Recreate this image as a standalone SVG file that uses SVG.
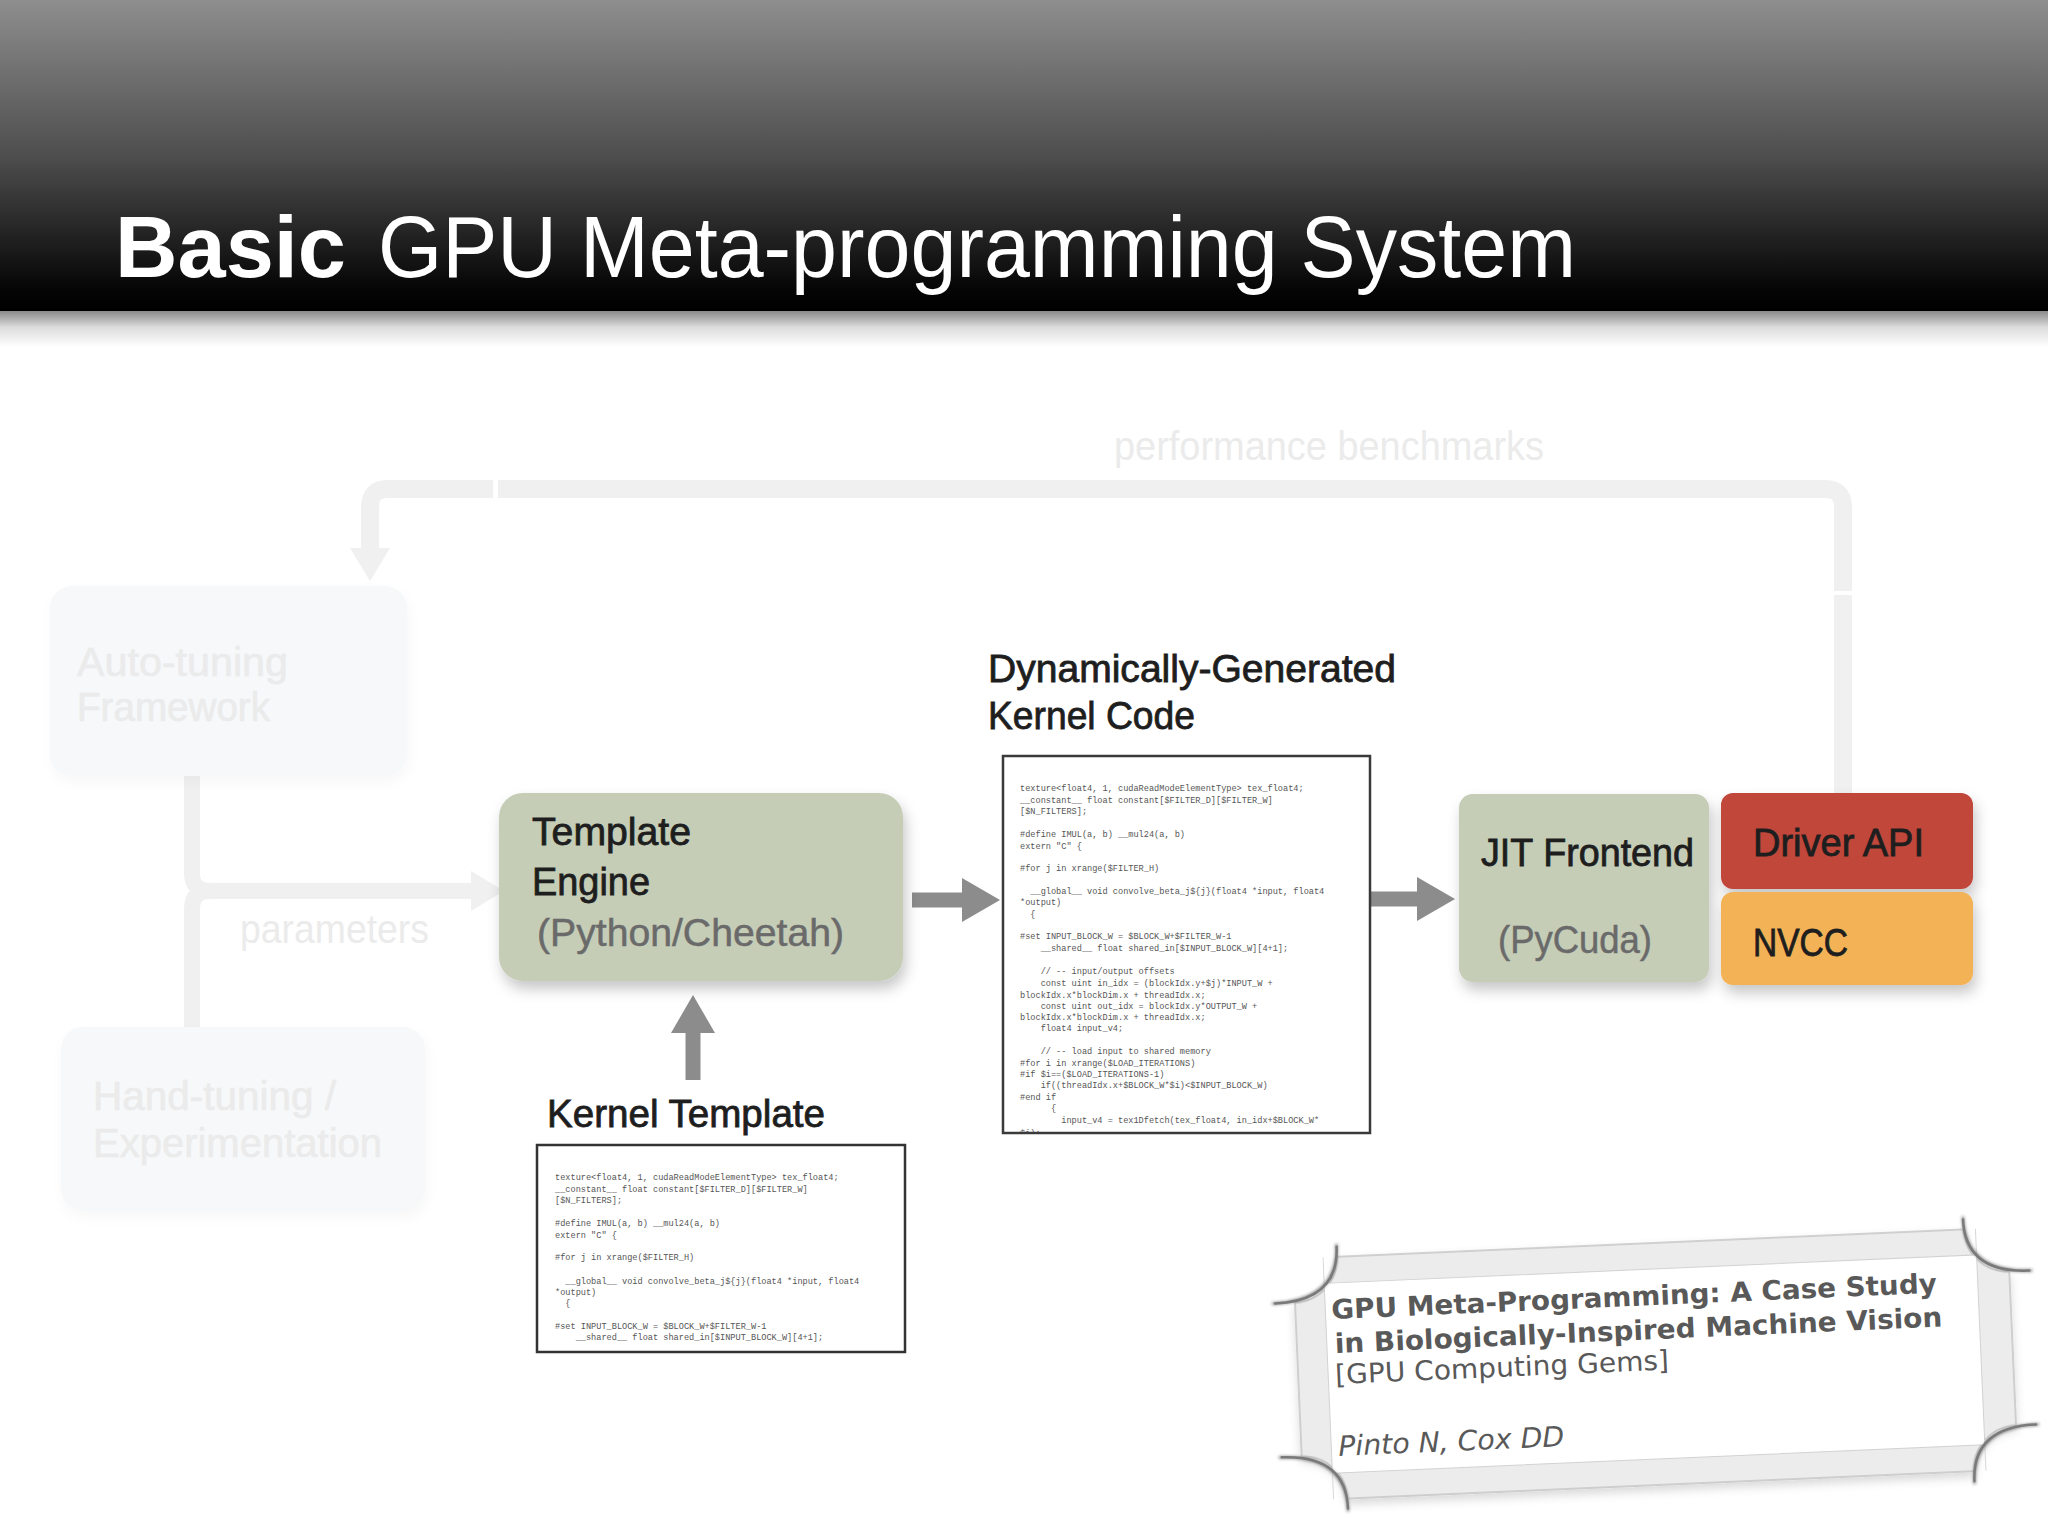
<svg xmlns="http://www.w3.org/2000/svg" width="2048" height="1536" viewBox="0 0 2048 1536">
<defs>
<style>
.title{font-family:"Liberation Sans",Arial,sans-serif;fill:#fff;font-size:88px}
.lbl{font-family:"Liberation Sans",Arial,sans-serif;font-size:38px;fill:#1e1e1e;stroke:#1e1e1e;stroke-width:0.8}
.sub{font-family:"Liberation Sans",Arial,sans-serif;font-size:38px;fill:#6a6a6a;stroke:#6a6a6a;stroke-width:0.5}
.faint{font-family:"Liberation Sans",Arial,sans-serif;font-size:40px;fill:#ebebeb}
.code{font-family:"Liberation Mono","DejaVu Sans Mono",monospace;font-size:8.6px;fill:#555;white-space:pre}
.cite{font-family:"DejaVu Sans","Liberation Sans",sans-serif;fill:#595959}
.arrow{fill:none;stroke:#8c8c8c;stroke-width:15}
.light{fill:none;stroke:#f0f0f0}
.curl{fill:none;stroke:#7a7a7a;stroke-width:2.5;stroke-linecap:round}
</style>
<linearGradient id="hdr" x1="0" y1="0" x2="0" y2="1">
<stop offset="0" stop-color="#8e8e8e"/>
<stop offset="0.5" stop-color="#4e4e4e"/>
<stop offset="0.93" stop-color="#050505"/>
<stop offset="1" stop-color="#000"/>
</linearGradient>
<linearGradient id="hdrsh" x1="0" y1="0" x2="0" y2="1">
<stop offset="0" stop-color="#8a8a8a"/>
<stop offset="0.45" stop-color="#dcdcdc"/>
<stop offset="1" stop-color="#fff"/>
</linearGradient>
<filter id="sh" x="-10%" y="-10%" width="130%" height="140%">
<feDropShadow dx="3" dy="8" stdDeviation="7" flood-color="#000" flood-opacity="0.22"/>
</filter>
<filter id="shf" x="-10%" y="-10%" width="130%" height="140%">
<feDropShadow dx="2" dy="6" stdDeviation="6" flood-color="#000" flood-opacity="0.03"/>
</filter>
<filter id="shc" x="-10%" y="-20%" width="120%" height="150%">
<feDropShadow dx="0" dy="5" stdDeviation="5" flood-color="#000" flood-opacity="0.15"/>
</filter>
<filter id="blur"><feGaussianBlur stdDeviation="1.6"/></filter>
<marker id="ah" markerUnits="userSpaceOnUse" markerWidth="60" markerHeight="60" refX="0" refY="0" viewBox="0 -30 60 60" orient="auto" overflow="visible">
<path d="M0,-22 L38,0 L0,22 z" fill="#8c8c8c"/>
</marker>
<marker id="ahl" markerUnits="userSpaceOnUse" markerWidth="60" markerHeight="60" refX="0" refY="0" viewBox="0 -30 60 60" orient="auto" overflow="visible">
<path d="M0,-20 L33,0 L0,20 z" fill="#f0f0f0"/>
</marker>
<clipPath id="clipcode"><rect x="1004" y="757" width="365" height="375"/></clipPath>
</defs>

<rect width="2048" height="1536" fill="#fff"/>

<g id="header">
<rect x="0" y="0" width="2048" height="311" fill="url(#hdr)"/>
<rect x="0" y="311" width="2048" height="36" fill="url(#hdrsh)"/>
<text class="title" x="115" y="277" font-weight="bold" textLength="231" lengthAdjust="spacingAndGlyphs">Basic</text>
<text class="title" x="378" y="277" textLength="1198" lengthAdjust="spacingAndGlyphs">GPU Meta-programming System</text>
</g>

<g id="connectors">
<path class="light" stroke-width="18" d="M1843,793 L1843,507 Q1843,489 1825,489 L388,489 Q370,489 370,507 L370,548" marker-end="url(#ahl)"/>
<rect x="493" y="478" width="5" height="22" fill="#fff"/>
<rect x="1832" y="591" width="22" height="4" fill="#fff"/>
<path class="light" stroke-width="16" d="M192,776 L192,873 Q192,891 210,891 L471,891" marker-end="url(#ahl)"/>
<path class="light" stroke-width="16" d="M192,1027 L192,909 Q192,891 210,891"/>
<text class="faint" x="1114" y="460" font-size="36" textLength="430" lengthAdjust="spacingAndGlyphs" fill="#e6e6e6">performance benchmarks</text>
<text class="faint" x="240" y="943" font-size="38" textLength="189" lengthAdjust="spacingAndGlyphs">parameters</text>
<path class="arrow" d="M912,900 L962,900" marker-end="url(#ah)"/>
<path class="arrow" d="M1371,899 L1417,899" marker-end="url(#ah)"/>
<path class="arrow" stroke-width="16" d="M693,1080 L693,1033" marker-end="url(#ah)"/>
</g>

<g id="autotuning">
<rect x="50" y="586" width="357" height="190" rx="22" fill="#f6f8fa" filter="url(#shf)"/>
<text class="faint" x="77" y="676" textLength="211" lengthAdjust="spacingAndGlyphs" stroke="#ebebeb" stroke-width="0.6">Auto-tuning</text>
<text class="faint" x="77" y="721" textLength="193" lengthAdjust="spacingAndGlyphs" stroke="#ebebeb" stroke-width="0.6">Framework</text>
</g>

<g id="handtuning">
<rect x="61" y="1027" width="364" height="184" rx="22" fill="#f7f8f9" filter="url(#shf)"/>
<text class="faint" x="93" y="1110" textLength="243" lengthAdjust="spacingAndGlyphs" stroke="#ebebeb" stroke-width="0.6">Hand-tuning /</text>
<text class="faint" x="93" y="1157" textLength="289" lengthAdjust="spacingAndGlyphs" stroke="#ebebeb" stroke-width="0.6">Experimentation</text>
</g>

<g id="template-engine">
<rect x="499" y="793" width="404" height="188" rx="24" fill="#c5cdb7" filter="url(#sh)"/>
<text class="lbl" x="532" y="845" textLength="159" lengthAdjust="spacingAndGlyphs">Template</text>
<text class="lbl" x="532" y="895" textLength="118" lengthAdjust="spacingAndGlyphs">Engine</text>
<text class="sub" x="537" y="946" textLength="307" lengthAdjust="spacingAndGlyphs">(Python/Cheetah)</text>
</g>

<g id="kernel-template">
<text class="lbl" x="547" y="1127" font-size="37" textLength="278" lengthAdjust="spacingAndGlyphs">Kernel Template</text>
<rect x="537" y="1145" width="368" height="207" fill="#fff" stroke="#333" stroke-width="2.5"/>
<text class="code" x="555" y="1180">texture&lt;float4, 1, cudaReadModeElementType&gt; tex_float4;</text>
<text class="code" x="555" y="1192">__constant__ float constant[$FILTER_D][$FILTER_W]</text>
<text class="code" x="555" y="1203">[$N_FILTERS];</text>
<text class="code" x="555" y="1226">#define IMUL(a, b) __mul24(a, b)</text>
<text class="code" x="555" y="1238">extern "C" {</text>
<text class="code" x="555" y="1260">#for j in xrange($FILTER_H)</text>
<text class="code" x="555" y="1284">  __global__ void convolve_beta_j${j}(float4 *input, float4</text>
<text class="code" x="555" y="1295">*output)</text>
<text class="code" x="555" y="1306">  {</text>
<text class="code" x="555" y="1329">#set INPUT_BLOCK_W = $BLOCK_W+$FILTER_W-1</text>
<text class="code" x="555" y="1340">    __shared__ float shared_in[$INPUT_BLOCK_W][4+1];</text>
</g>

<g id="kernel-code">
<text class="lbl" x="988" y="682" textLength="408" lengthAdjust="spacingAndGlyphs">Dynamically-Generated</text>
<text class="lbl" x="988" y="729" textLength="207" lengthAdjust="spacingAndGlyphs">Kernel Code</text>
<rect x="1003" y="756" width="367" height="377" fill="#fff" stroke="#3a3a3a" stroke-width="2.5"/>
<g clip-path="url(#clipcode)">
<text class="code" x="1020" y="791">texture&lt;float4, 1, cudaReadModeElementType&gt; tex_float4;</text>
<text class="code" x="1020" y="803">__constant__ float constant[$FILTER_D][$FILTER_W]</text>
<text class="code" x="1020" y="814">[$N_FILTERS];</text>
<text class="code" x="1020" y="837">#define IMUL(a, b) __mul24(a, b)</text>
<text class="code" x="1020" y="849">extern "C" {</text>
<text class="code" x="1020" y="871">#for j in xrange($FILTER_H)</text>
<text class="code" x="1020" y="894">  __global__ void convolve_beta_j${j}(float4 *input, float4</text>
<text class="code" x="1020" y="905">*output)</text>
<text class="code" x="1020" y="917">  {</text>
<text class="code" x="1020" y="939">#set INPUT_BLOCK_W = $BLOCK_W+$FILTER_W-1</text>
<text class="code" x="1020" y="951">    __shared__ float shared_in[$INPUT_BLOCK_W][4+1];</text>
<text class="code" x="1020" y="974">    // -- input/output offsets</text>
<text class="code" x="1020" y="986">    const uint in_idx = (blockIdx.y+$j)*INPUT_W +</text>
<text class="code" x="1020" y="998">blockIdx.x*blockDim.x + threadIdx.x;</text>
<text class="code" x="1020" y="1009">    const uint out_idx = blockIdx.y*OUTPUT_W +</text>
<text class="code" x="1020" y="1020">blockIdx.x*blockDim.x + threadIdx.x;</text>
<text class="code" x="1020" y="1031">    float4 input_v4;</text>
<text class="code" x="1020" y="1054">    // -- load input to shared memory</text>
<text class="code" x="1020" y="1066">#for i in xrange($LOAD_ITERATIONS)</text>
<text class="code" x="1020" y="1077">#if $i==($LOAD_ITERATIONS-1)</text>
<text class="code" x="1020" y="1088">    if((threadIdx.x+$BLOCK_W*$i)&lt;$INPUT_BLOCK_W)</text>
<text class="code" x="1020" y="1100">#end if</text>
<text class="code" x="1020" y="1111">      {</text>
<text class="code" x="1020" y="1123">        input_v4 = tex1Dfetch(tex_float4, in_idx+$BLOCK_W*</text>
<text class="code" x="1020" y="1136">$i);</text>
</g>
</g>

<g id="jit-frontend">
<rect x="1459" y="794" width="250" height="188" rx="14" fill="#c5cdb7" filter="url(#sh)"/>
<text class="lbl" x="1481" y="866" textLength="213" lengthAdjust="spacingAndGlyphs">JIT Frontend</text>
<text class="sub" x="1498" y="953" textLength="154" lengthAdjust="spacingAndGlyphs">(PyCuda)</text>
</g>

<g id="driver-api">
<rect x="1721" y="793" width="252" height="96" rx="12" fill="#c1463a" filter="url(#sh)"/>
<text class="lbl" x="1753" y="856" font-size="36" fill="#fff" stroke="#fff" textLength="171" lengthAdjust="spacingAndGlyphs">Driver API</text>
</g>

<g id="nvcc">
<rect x="1721" y="892" width="252" height="93" rx="12" fill="#f3b256" filter="url(#sh)"/>
<text class="lbl" x="1753" y="956" font-size="36" textLength="95" lengthAdjust="spacingAndGlyphs">NVCC</text>
</g>

<g id="citation" transform="rotate(-2.5 1655 1364)">
<path d="M1342,1243 L1969,1243 A44,44 0 0 0 2013,1287 L2013,1441 A44,44 0 0 0 1969,1485 L1342,1485 A44,44 0 0 0 1298,1441 L1298,1287 A44,44 0 0 0 1342,1243 Z" fill="#ececec" stroke="#c4c4c4" stroke-width="1.5" filter="url(#shc)"/>
<rect x="1328" y="1269" width="653" height="190" fill="#fff" stroke="#d2d2d2" stroke-width="1"/>
<line x1="1328" y1="1243" x2="1328" y2="1269" stroke="#d8d8d8" stroke-width="1"/>
<line x1="1981" y1="1243" x2="1981" y2="1269" stroke="#d8d8d8" stroke-width="1"/>
<line x1="1328" y1="1459" x2="1328" y2="1485" stroke="#d8d8d8" stroke-width="1"/>
<line x1="1981" y1="1459" x2="1981" y2="1485" stroke="#d8d8d8" stroke-width="1"/>
<g filter="url(#blur)">
<path class="curl" stroke-width="4" d="M1342,1231 Q1342,1287 1276,1287"/>
<path class="curl" stroke-width="4" d="M1969,1231 Q1969,1287 2035,1287"/>
<path class="curl" stroke-width="4" d="M1276,1441 Q1342,1441 1342,1497"/>
<path class="curl" stroke-width="4" d="M2035,1441 Q1969,1441 1969,1497"/>
</g>
<path class="curl" d="M1342,1233 Q1342,1287 1278,1287"/>
<path class="curl" d="M1969,1233 Q1969,1287 2033,1287"/>
<path class="curl" d="M1278,1441 Q1342,1441 1342,1495"/>
<path class="curl" d="M2033,1441 Q1969,1441 1969,1495"/>
<text class="cite" x="1334" y="1305" font-size="27" font-weight="bold" textLength="606" lengthAdjust="spacingAndGlyphs">GPU Meta-Programming: A Case Study</text>
<text class="cite" x="1336" y="1339" font-size="27" font-weight="bold" textLength="608" lengthAdjust="spacingAndGlyphs">in Biologically-Inspired Machine Vision</text>
<text class="cite" x="1335" y="1370" font-size="27" textLength="334" lengthAdjust="spacingAndGlyphs">[GPU Computing Gems]</text>
<text class="cite" x="1335" y="1442" font-size="28" font-style="italic" textLength="226" lengthAdjust="spacingAndGlyphs">Pinto N, Cox DD</text>
</g>
</svg>
